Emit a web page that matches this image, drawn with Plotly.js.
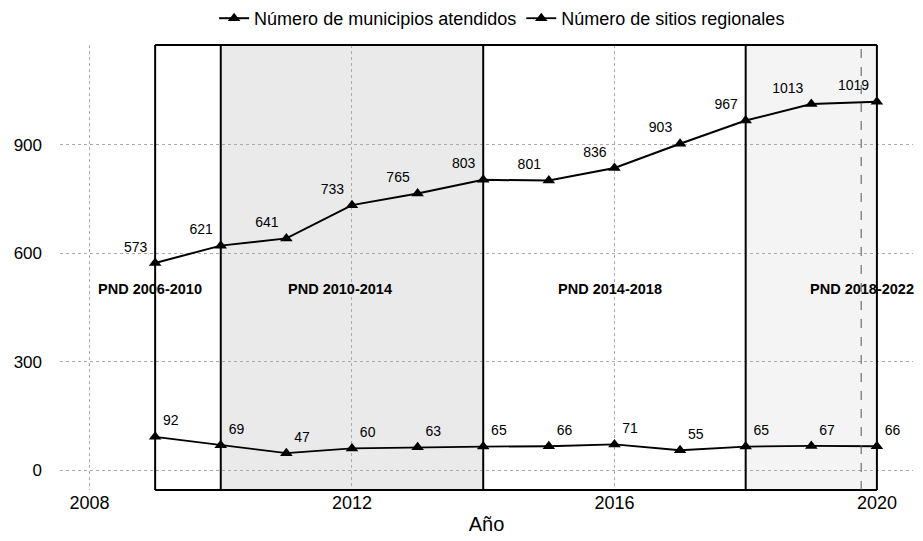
<!DOCTYPE html>
<html>
<head>
<meta charset="utf-8">
<script src="https://cdn.plot.ly/plotly-3.0.1.min.js"></script>
<style>html,body{margin:0;padding:0;background:#fff;}#chart{width:923px;height:541px;}</style>
</head>
<body>
<div id="chart"></div>
<script>
var years = [2009, 2010, 2011, 2012, 2013, 2014, 2015, 2016, 2017, 2018, 2019, 2020];
var municipios = [573, 621, 641, 733, 765, 803, 801, 836, 903, 967, 1013, 1019];
var sitios = [92, 69, 47, 60, 63, 65, 66, 71, 55, 65, 67, 66];
var periodBounds = [2009, 2010, 2014, 2018, 2020];
var periodLabels = ["PND 2006-2010", "PND 2010-2014", "PND 2014-2018", "PND 2018-2022"];
var periodLabelX = [2008.92, 2011.82, 2015.93, 2019.77];
var periodLabelY = 500;
var xTicks = [2008, 2012, 2016, 2020];
var yTicks = [0, 300, 600, 900];

var font = "Liberation Sans, Arial, sans-serif";

var traces = [
  {
    x: years, y: municipios, name: "Número de municipios atendidos",
    mode: "lines+markers+text", text: municipios.map(String), textposition: "top left",
    textfont: {family: font, size: 14, color: "#000"},
    line: {color: "#000", width: 2},
    marker: {symbol: "triangle-up", size: 11, color: "#000"},
    cliponaxis: false
  },
  {
    x: years, y: sitios, name: "Número de sitios regionales",
    mode: "lines+markers+text", text: sitios.map(String), textposition: "top right",
    textfont: {family: font, size: 14, color: "#000"},
    line: {color: "#000", width: 1.8},
    marker: {symbol: "triangle-up", size: 11, color: "#000"},
    cliponaxis: false
  }
];

var shapes = [
  {type: "rect", xref: "x", yref: "paper", x0: 2010, x1: 2014, y0: 0, y1: 1, fillcolor: "#eaeaea", line: {width: 0}, layer: "below"},
  {type: "rect", xref: "x", yref: "paper", x0: 2018, x1: 2020, y0: 0, y1: 1, fillcolor: "#f4f4f4", line: {width: 0}, layer: "below"},
  {type: "line", xref: "x", yref: "paper", x0: 2009, x1: 2020, y0: 1, y1: 1, line: {color: "#000", width: 2}},
  {type: "line", xref: "x", yref: "paper", x0: 2009, x1: 2020, y0: 0, y1: 0, line: {color: "#000", width: 2}},
  {type: "line", xref: "x", yref: "paper", x0: 2019.76, x1: 2019.76, y0: 0, y1: 1, line: {color: "#555", width: 1, dash: "dash"}}
];
periodBounds.forEach(function (b) {
  shapes.push({type: "line", xref: "x", yref: "paper", x0: b, x1: b, y0: 0, y1: 1, line: {color: "#000", width: 2}});
});

var annotations = periodLabels.map(function (t, i) {
  return {x: periodLabelX[i], y: periodLabelY, xref: "x", yref: "y", text: t, showarrow: false,
    font: {family: font, size: 14.5, color: "#000", weight: "bold"}};
});

var layout = {
  width: 923, height: 541,
  margin: {l: 60, r: 10, t: 45, b: 51, autoexpand: false},
  paper_bgcolor: "#fff", plot_bgcolor: "#fff",
  font: {family: font, color: "#000"},
  showlegend: true,
  legend: {orientation: "h", x: 0.544, xanchor: "center", xref: "container", y: 1, yanchor: "top", yref: "container",
    font: {family: font, size: 18, color: "#000"}, bgcolor: "rgba(0,0,0,0)", itemwidth: 30},
  xaxis: {
    range: [2007.55, 2020.55], tickvals: xTicks, ticktext: xTicks.map(String),
    showgrid: true, gridcolor: "#aaa", griddash: "dot", gridwidth: 1,
    zeroline: false, showline: false, ticks: "",
    tickfont: {family: font, size: 18, color: "#000"},
    title: {text: "Año", font: {family: font, size: 20, color: "#000"}, standoff: 4}
  },
  yaxis: {
    range: [-55, 1176], tickvals: yTicks, ticktext: yTicks.map(String),
    showgrid: true, gridcolor: "#aaa", griddash: "dot", gridwidth: 1,
    zeroline: false, showline: false, ticks: "", ticklabelstandoff: 17,
    tickfont: {family: font, size: 17, color: "#000"}
  },
  shapes: shapes,
  annotations: annotations
};

Plotly.newPlot("chart", traces, layout, {displayModeBar: false, staticPlot: true});
</script>
</body>
</html>
